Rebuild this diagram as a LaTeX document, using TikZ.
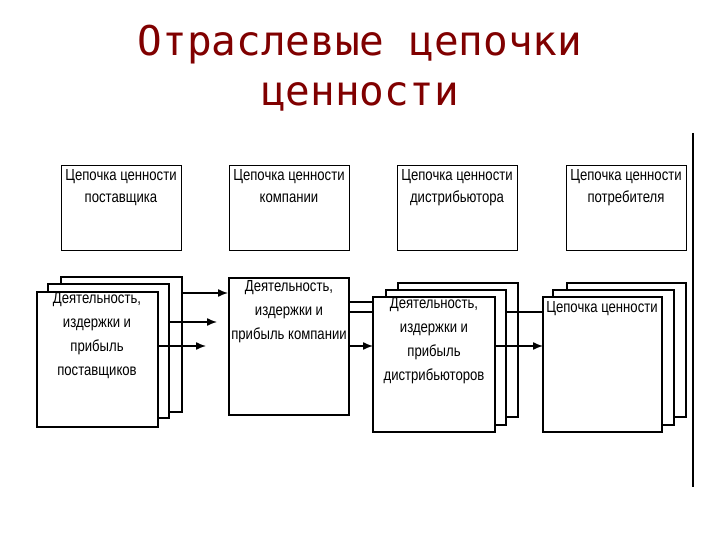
\documentclass[tikz,border=0pt]{standalone}
\usepackage{fontspec}
\setmainfont{Liberation Sans}[FakeStretch=0.82]
\newfontfamily\titlefont{DejaVu Sans Mono}
\usetikzlibrary{arrows.meta}
\begin{document}
\begin{tikzpicture}[x=1pt,y=-1pt,
 bx/.style={draw,line width=1.2pt,fill=white},
 lb/.style={font=\fontsize{16}{24}\selectfont,align=center,anchor=north,inner sep=1pt},
 ar/.style={line width=1.4pt,-{Latex[length=10pt,width=8pt]}},
 ln/.style={line width=1.4pt}]
\useasboundingbox (0,0) rectangle (720,540);
\node[font=\titlefont\fontsize{41}{50}\selectfont,text=red!50!black,align=center] (title) at (360,68) {Отраслевые цепочки\\ценности};
\draw[line width=2.8pt] (693,133) -- (693,487);
% top boxes
\foreach \x/\t/\n in {61/Цепочка ценности\\поставщика/t1,229/Цепочка ценности\\компании/t2,397/Цепочка ценности\\дистрибьютора/t3,566/Цепочка ценности\\потребителя/t4}{
 \draw[bx,line width=1pt] (\x,166) rectangle ++(120,84);
 \node[lb,font=\fontsize{16}{22}\selectfont] (\n) at (\x+60,168) {\t};
}
% supplier stack
\draw[bx] (61,277) rectangle (182,412);
\draw[bx] (48,284) rectangle (169,418);
\draw[bx] (37,292) rectangle (158,427);
\node[lb] (s) at (97,291) {Деятельность,\\издержки и\\прибыль\\поставщиков};
% company
\draw[bx] (229,278) rectangle (349,415);
\node[lb] (c) at (289,279) {Деятельность,\\издержки и\\прибыль компании};
% distributor stack
\draw[bx] (398,283) rectangle (518,417);
\draw[bx] (386,290) rectangle (506,425);
\draw[bx] (373,297) rectangle (495,432);
\node[lb] (d) at (434,296) {Деятельность,\\издержки и\\прибыль\\дистрибьюторов};
% consumer stack
\draw[bx] (567,283) rectangle (686,417);
\draw[bx] (553,290) rectangle (674,425);
\draw[bx] (543,297) rectangle (662,432);
\node[lb] (v) at (602,300) {Цепочка ценности};
% connectors
\coordinate (a1s) at (182,293); \coordinate (a1e) at (228,293);
\coordinate (a2s) at (169,322); \coordinate (a2e) at (217,322);
\coordinate (a3s) at (158,346); \coordinate (a3e) at (206,346);
\draw[ar] (a1s) -- (a1e);
\draw[ar] (a2s) -- (a2e);
\draw[ar] (a3s) -- (a3e);
\coordinate (b1s) at (349,302); \coordinate (b1e) at (373,302);
\coordinate (b2s) at (349,312); \coordinate (b2e) at (373,312);
\coordinate (b3s) at (349,346); \coordinate (b3e) at (373,346);
\draw[ln] (b1s) -- (b1e);
\draw[ln] (b2s) -- (b2e);
\draw[ar] (b3s) -- (b3e);
\coordinate (c1s) at (506,312); \coordinate (c1e) at (543,312);
\coordinate (c2s) at (495,346); \coordinate (c2e) at (543,346);
\draw[ln] (c1s) -- (c1e);
\draw[ar] (c2s) -- (c2e);
\end{tikzpicture}
\end{document}
